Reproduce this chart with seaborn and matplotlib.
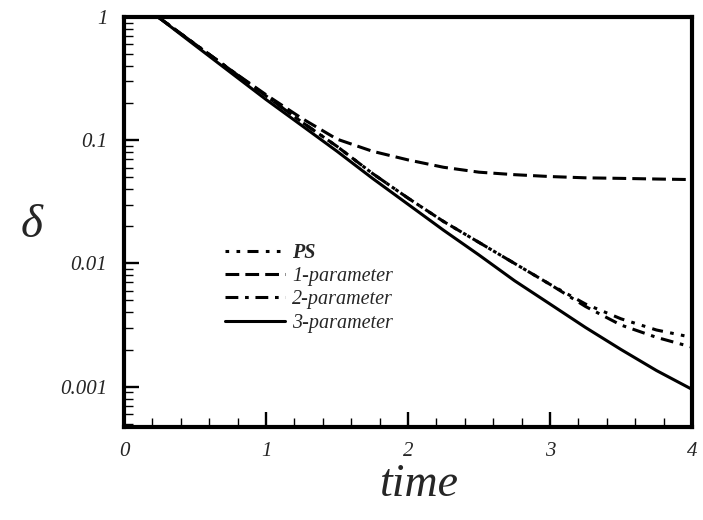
import matplotlib
matplotlib.use("Agg")
import matplotlib.pyplot as plt
import matplotlib.ticker as mticker
import pandas as pd
import seaborn as sns

# decay of delta over time for each model
time = [0.24, 0.5, 0.75, 1.0, 1.25, 1.5, 1.75, 2.0, 2.25, 2.5, 2.75, 3.0, 3.25, 3.5, 3.75, 4.0]
delta_ps = [1.0, 0.603, 0.372, 0.229, 0.141, 0.0891, 0.0537, 0.0339, 0.0219, 0.0148,
            0.0100, 0.00676, 0.00468, 0.00355, 0.00288, 0.00251]
delta_1p = [1.0, 0.603, 0.372, 0.234, 0.151, 0.102, 0.0813, 0.0692, 0.0603, 0.0550,
            0.0525, 0.0507, 0.0495, 0.0490, 0.0484, 0.0479]
delta_2p = [1.0, 0.603, 0.372, 0.229, 0.141, 0.0891, 0.0537, 0.0339, 0.0219, 0.0148,
            0.0100, 0.00676, 0.00447, 0.00316, 0.00251, 0.00209]
delta_3p = [1.0, 0.589, 0.355, 0.214, 0.132, 0.0813, 0.0490, 0.0302, 0.0186, 0.0117,
            0.00724, 0.00468, 0.00302, 0.00200, 0.00135, 0.00095]

models = ["PS", "1-parameter", "2-parameter", "3-parameter"]
series = [delta_ps, delta_1p, delta_2p, delta_3p]

x_ticks = [0, 1, 2, 3, 4]
x_tick_labels = ["0", "1", "2", "3", "4"]
y_ticks = [1, 0.1, 0.01, 0.001]
y_tick_labels = ["1", "0.1", "0.01", "0.001"]

df = pd.DataFrame({
    "time": time * len(models),
    "delta": [v for s in series for v in s],
    "model": [m for m in models for _ in time],
})

sns.set_style("white")
plt.rcParams["font.family"] = ["Liberation Serif", "DejaVu Serif"]
plt.rcParams["mathtext.fontset"] = "custom"
plt.rcParams["mathtext.it"] = "Liberation Serif:italic"

fig = plt.figure(figsize=(7.03, 5.2), dpi=100)
ax = fig.add_axes([124 / 703, 1 - 427 / 520, 568 / 703, 410 / 520])

dash_styles = {
    "PS": (1.2, 2.4, 1.2, 2.4, 3.6, 2.4),
    "1-parameter": (4.5, 2.0),
    "2-parameter": (4.2, 2.2, 1.2, 2.2),
    "3-parameter": "",
}

sns.lineplot(data=df, x="time", y="delta", style="model", style_order=models,
             dashes=dash_styles, color="black", linewidth=2.2, ax=ax,
             legend=True)

ax.set_yscale("log")
ax.set_xlim(0, 4)
ax.set_ylim(0.00047, 1)

ax.xaxis.set_major_locator(mticker.FixedLocator(x_ticks))
ax.xaxis.set_major_formatter(mticker.FixedFormatter(x_tick_labels))
ax.xaxis.set_minor_locator(mticker.MultipleLocator(0.2))
ax.yaxis.set_major_locator(mticker.FixedLocator(y_ticks))
ax.yaxis.set_major_formatter(mticker.FixedFormatter(y_tick_labels))
ax.yaxis.set_minor_locator(mticker.LogLocator(base=10, subs=range(2, 10)))
ax.yaxis.set_minor_formatter(mticker.NullFormatter())

ax.tick_params(which="both", direction="in", bottom=True, left=True,
               top=False, right=False, color="black")
ax.tick_params(which="major", length=11, width=1.7, labelsize=15)
ax.tick_params(which="minor", length=6.5, width=1.0)
ax.tick_params(axis="x", which="major", pad=11)
ax.tick_params(axis="y", which="major", pad=12)
for lab in ax.get_xticklabels() + ax.get_yticklabels():
    lab.set_fontstyle("italic")

for sp in ax.spines.values():
    sp.set_visible(True)
    sp.set_linewidth(3.0)
    sp.set_color("black")

ax.set_xlabel("time", fontsize=33, fontstyle="italic", va="center")
ax.set_ylabel(r"$\delta$", fontsize=34, rotation=0, va="center", ha="center")
ax.xaxis.set_label_coords(0.52, -0.14)
ax.yaxis.set_label_coords(-0.162, 0.49)

leg = ax.legend(loc="upper left", bbox_to_anchor=(0.163, 0.468), frameon=False,
                fontsize=14.5, handlelength=3.0, handletextpad=0.35,
                labelspacing=0.2, borderaxespad=0)
for txt in leg.get_texts():
    txt.set_fontstyle("italic")
leg.get_texts()[0].set_fontweight("bold")
for ln in leg.get_lines():
    ln.set_linewidth(2.2)

fig.savefig("out.png", dpi=100)
